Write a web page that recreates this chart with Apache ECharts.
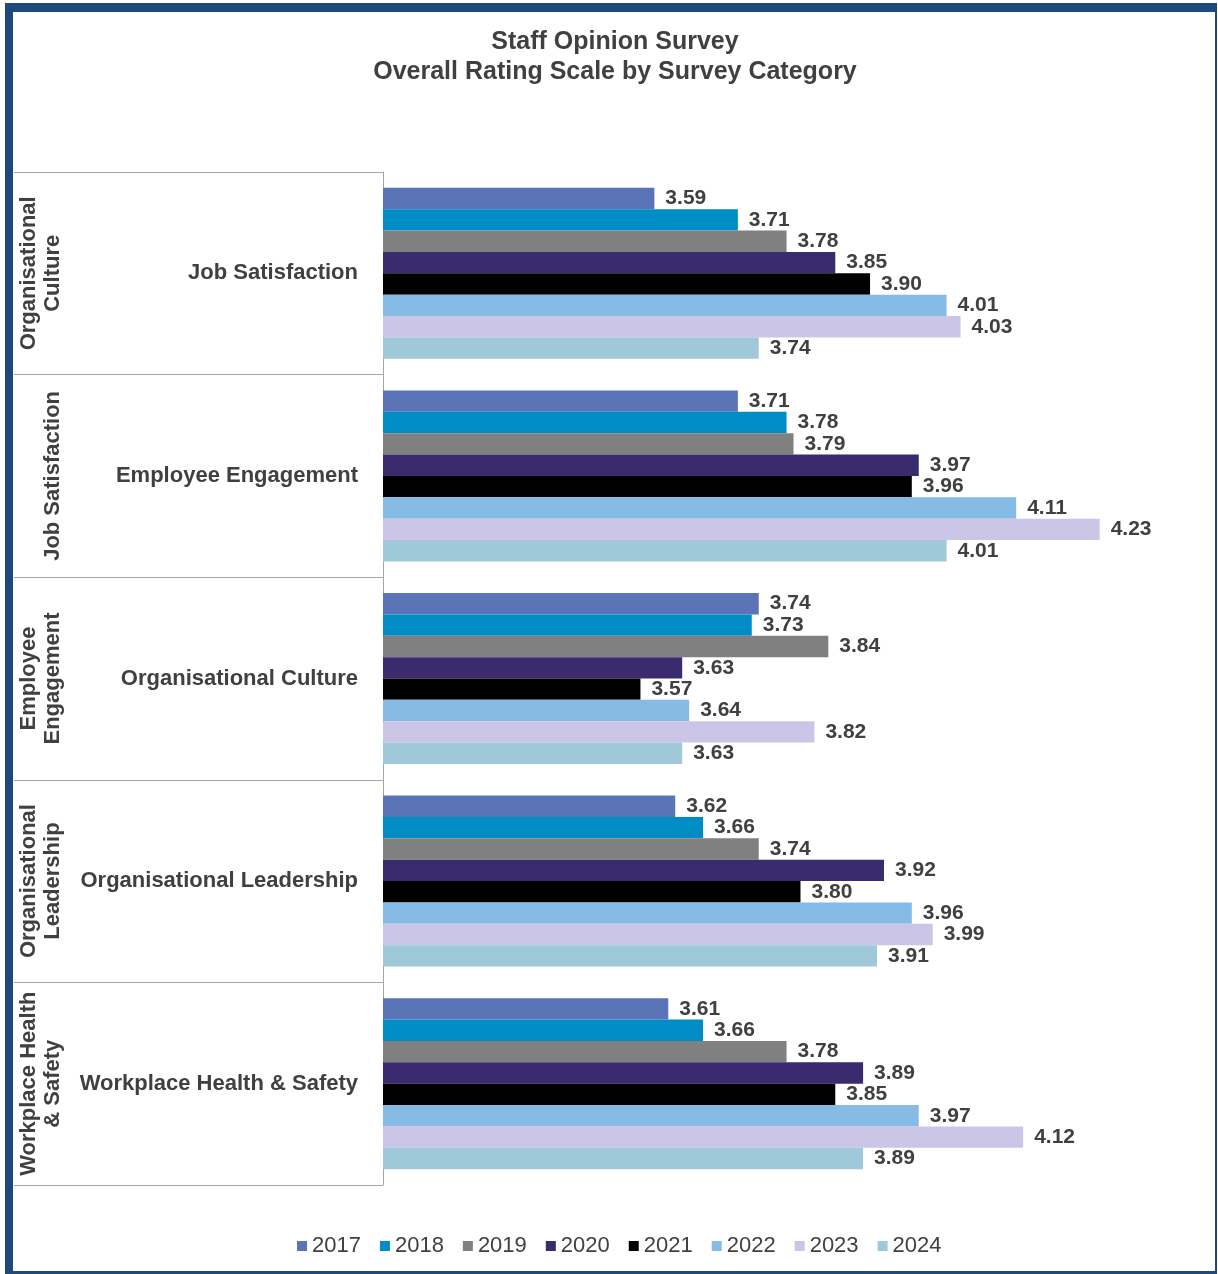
<!DOCTYPE html>
<html>
<head>
<meta charset="utf-8">
<script src="https://cdn.jsdelivr.net/npm/echarts@6/dist/echarts.min.js"></script>
<style>
  html, body { margin: 0; padding: 0; background: #fff; }
  #chart { position: absolute; left: 0; top: 0; width: 1218px; height: 1274px; }
  #frame { position: absolute; left: 5px; top: 3px; width: 1212px; height: 1271px; box-sizing: border-box;
           border-top: 9px solid #1F497D; border-left: 8px solid #1F497D; border-right: 2px solid #1F497D; border-bottom: 3px solid #1F497D;
           pointer-events: none; }
</style>
</head>
<body>
<div id="chart"></div>
<div id="frame"></div>
<script>
const categories = ['Job Satisfaction', 'Employee Engagement', 'Organisational Culture', 'Organisational Leadership', 'Workplace Health & Safety'];
const outerLabels = ['Organisational\nCulture', 'Job Satisfaction', 'Employee\nEngagement', 'Organisational\nLeadership', 'Workplace Health\n& Safety'];
const years = ['2017', '2018', '2019', '2020', '2021', '2022', '2023', '2024'];
const s2017 = [3.59, 3.71, 3.74, 3.62, 3.61];
const s2018 = [3.71, 3.78, 3.73, 3.66, 3.66];
const s2019 = [3.78, 3.79, 3.84, 3.74, 3.78];
const s2020 = [3.85, 3.97, 3.63, 3.92, 3.89];
const s2021 = [3.90, 3.96, 3.57, 3.80, 3.85];
const s2022 = [4.01, 4.11, 3.64, 3.96, 3.97];
const s2023 = [4.03, 4.23, 3.82, 3.99, 4.12];
const s2024 = [3.74, 4.01, 3.63, 3.91, 3.89];
const seriesData = [s2017, s2018, s2019, s2020, s2021, s2022, s2023, s2024];
const colors = ['#5B74B8', '#008DC5', '#808080', '#3A2A6E', '#000000', '#86BBE5', '#CBC5E8', '#9FC8D8'];

const FONT = '"Liberation Sans", Arial, sans-serif';
const chart = echarts.init(document.getElementById('chart'));
chart.setOption({
  backgroundColor: '#fff',
  animation: false,
  textStyle: { fontFamily: FONT },
  title: {
    text: 'Staff Opinion Survey\nOverall Rating Scale by Survey Category',
    left: 610, top: 22, textAlign: 'center',
    textStyle: { fontFamily: FONT, fontSize: 25, fontWeight: 'bold', color: '#404040', lineHeight: 30 }
  },
  legend: {
    data: years, bottom: 12, left: 292,
    itemWidth: 10, itemHeight: 10, itemGap: 19, icon: 'rect',
    textStyle: { fontFamily: FONT, fontSize: 22, color: '#404040' }
  },
  grid: { left: 383, right: 7, top: 172, bottom: 89, containLabel: false },
  xAxis: { type: 'value', min: 3.2, max: 4.39, show: false },
  yAxis: [
    {
      type: 'category', data: categories, inverse: true, position: 'left',
      axisLine: { show: true, lineStyle: { color: '#A6A6A6', width: 1 } },
      axisTick: { show: true, length: 369, lineStyle: { color: '#A6A6A6', width: 1 } },
      axisLabel: { interval: 0, margin: 25, fontFamily: FONT, fontSize: 22, fontWeight: 'bold', color: '#404040' }
    },
    {
      type: 'category', data: outerLabels, inverse: true, position: 'left',
      axisLine: { show: false }, axisTick: { show: false },
      axisLabel: { interval: 0, hideOverlap: false, rotate: 90, margin: 318, fontFamily: FONT, fontSize: 22, fontWeight: 'bold', color: '#404040', lineHeight: 24 }
    }
  ],
  series: years.map((y, i) => ({
    name: y, type: 'bar', data: seriesData[i],
    barGap: '0%', barCategoryGap: '15.6%',
    itemStyle: { color: colors[i] },
    label: {
      show: true, position: 'right', distance: 11,
      formatter: p => p.value.toFixed(2),
      fontFamily: FONT, fontSize: 21, fontWeight: 'bold', color: '#404040'
    }
  }))
});
</script>
</body>
</html>
